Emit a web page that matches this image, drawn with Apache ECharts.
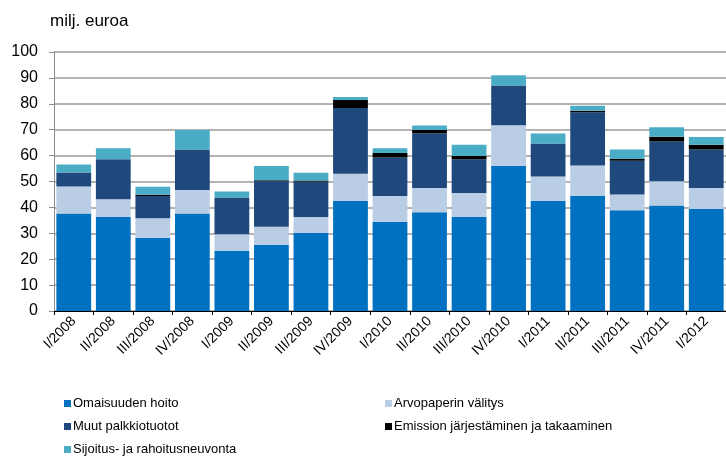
<!DOCTYPE html>
<html>
<head>
<meta charset="utf-8">
<script src="https://cdn.jsdelivr.net/npm/echarts@6/dist/echarts.min.js"></script>
<style>
  html, body { margin: 0; padding: 0; background: #fff; }
  #main { width: 726px; height: 458px; }
</style>
</head>
<body>
<div id="main"></div>
<script>
// neljännekset
var quarters = ['I/2008', 'II/2008', 'III/2008', 'IV/2008', 'I/2009', 'II/2009', 'III/2009', 'IV/2009',
  'I/2010', 'II/2010', 'III/2010', 'IV/2010', 'I/2011', 'II/2011', 'III/2011', 'IV/2011', 'I/2012'];

// milj. euroa
var omaisuudenHoito = [37.6, 36.3, 28.3, 37.6, 23.3, 25.6, 30.1, 42.5, 34.5, 38.1, 36.3, 56.1, 42.5, 44.4, 38.9, 40.7, 39.4];
var arvopaperinValitys = [10.5, 6.8, 7.5, 9.1, 6.3, 6.9, 6.2, 10.5, 9.9, 9.4, 9.3, 15.6, 9.4, 11.8, 6.1, 9.4, 8.1];
var muutPalkkiotuotot = [5.4, 15.5, 8.6, 15.7, 14.2, 17.6, 13.7, 25.4, 14.9, 21.1, 13.0, 15.4, 12.8, 20.5, 13.0, 15.3, 14.9];
var emissio = [0, 0, 0.5, 0, 0, 0.4, 0.4, 3.1, 1.7, 1.3, 1.2, 0, 0, 0.6, 0.7, 1.9, 1.8];
var neuvonta = [3.1, 4.2, 3.1, 7.5, 2.3, 5.5, 3.0, 1.1, 1.8, 1.7, 4.4, 3.9, 3.8, 1.9, 3.7, 3.6, 3.0];

var seriesNames = ['Omaisuuden hoito', 'Arvopaperin välitys', 'Muut palkkiotuotot',
  'Emission järjestäminen ja takaaminen', 'Sijoitus- ja rahoitusneuvonta'];
var seriesColors = ['#0070c0', '#b9cde5', '#1f497d', '#000000', '#4bacc6'];
var seriesData = [omaisuudenHoito, arvopaperinValitys, muutPalkkiotuotot, emissio, neuvonta];

var myChart = echarts.init(document.getElementById('main'));

var font = 'Liberation Sans, Arial, sans-serif';

var series = seriesData.map(function (d, i) {
  return {
    name: seriesNames[i],
    type: 'bar',
    stack: 'yht',
    data: d,
    barCategoryGap: '12%',
    itemStyle: { color: seriesColors[i] },
    emphasis: { disabled: true }
  };
});

var legendCommon = {
  orient: 'vertical',
  icon: 'rect',
  itemWidth: 7,
  itemHeight: 7,
  itemGap: 10,
  padding: 0,
  top: 397,
  height: 61,
  textStyle: { fontFamily: font, fontSize: 13, color: '#000', padding: [0, 0, 0, -3] },
  selectedMode: false
};

var option = {
  animation: false,
  title: {
    text: 'milj. euroa',
    left: 45,
    top: 8,
    textStyle: { fontFamily: font, fontSize: 17, fontWeight: 'normal', color: '#000' }
  },
  legend: [
    Object.assign({}, legendCommon, { left: 64, data: [seriesNames[0], seriesNames[2], seriesNames[4]] }),
    Object.assign({}, legendCommon, { left: 385, data: [seriesNames[1], seriesNames[3]] })
  ],
  grid: {
    left: 54,
    right: -4,
    top: 52,
    bottom: 147
  },
  xAxis: {
    type: 'category',
    data: quarters,
    axisLine: { lineStyle: { color: '#000', width: 1 } },
    axisTick: { show: true, length: 4, lineStyle: { color: '#000' } },
    axisLabel: {
      rotate: 45,
      margin: 8,
      interval: 0,
      fontFamily: font,
      fontSize: 14,
      color: '#000'
    }
  },
  yAxis: {
    type: 'value',
    min: 0,
    max: 100,
    interval: 10,
    axisLine: { show: true, lineStyle: { color: '#8c8c8c' } },
    axisTick: { show: true, length: 5, lineStyle: { color: '#8c8c8c' } },
    axisLabel: { margin: 16, fontFamily: font, fontSize: 16, color: '#000' },
    splitLine: { lineStyle: { color: '#9a9a9a', width: 1.5 } }
  },
  series: series
};

myChart.setOption(option);
</script>
</body>
</html>
